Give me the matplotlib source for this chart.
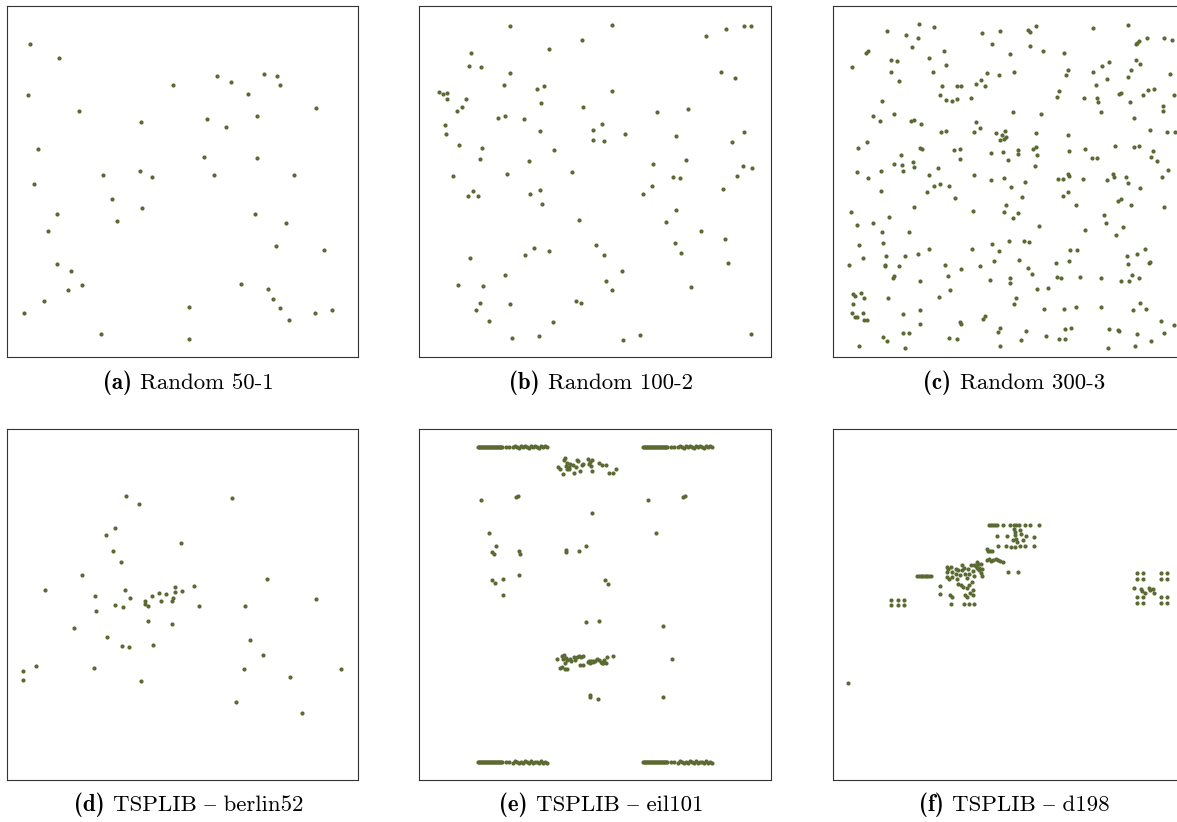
import matplotlib.pyplot as plt

# point positions (pixel units of each panel, y grows downward)
pts_a = [(90,131),(177,172),(84,285),(235,333),(520,255),(652,228),(692,246),(743,281),(793,222),(833,226),
         (842,254),(948,325),(622,357),(677,381),(770,347),(423,365),(113,446),(611,471),(771,474),(310,526),
         (420,513),(456,531),(643,526),(884,526),(101,552),(335,596),(426,625),(169,641),(352,664),(764,641),
         (860,670),(143,692),(828,737),(973,749),(170,793),(212,813),(244,856),(202,872),(722,854),(803,867),
         (131,904),(821,897),(71,939),(567,921),(841,925),(946,939),(998,931),(868,960),(303,1004),(568,1019)]

pts_b = [(295,77),(602,74),(511,120),(410,146),(883,107),(943,85),(998,78),(1018,77),
         (178,159),(172,197),(206,201),(293,218),(928,216),(970,233),
         (275,255),(376,265),(397,256),(602,273),
         (82,275),(94,280),(106,279),(105,298),(163,298),(151,321),(134,333),
         (387,309),(514,322),(736,337),(830,326),
         (259,354),(279,347),(336,358),
         (98,375),(102,401),(383,392),(542,391),(572,373),(544,419),(578,422),(640,403),(792,408),(998,397),(961,425),
         (140,435),(210,443),(425,449),(203,478),(352,483),(724,493),(822,480),(993,497),(1020,503),(977,527),
         (124,527),(285,521),(481,517),(783,530),(805,533),(722,558),(695,581),(935,567),
         (183,573),(168,587),(199,589),(353,581),(383,569),(389,611),
         (792,629),(502,659),(762,666),(867,692),(940,717),(791,729),(809,760),(949,789),
         (175,773),(340,766),(366,745),(411,752),(553,736),(576,765),
         (278,827),(632,813),(138,856),(214,858),(582,843),(600,872),(839,863),
         (203,911),(191,931),(293,914),(491,904),(508,909),
         (231,965),(424,966),
         (299,1014),(380,1009),(634,1021),(686,1006),(1019,1002)]

pts_c = [(276,70),(320,77),(180,91),(236,103),(273,112),(460,96),(513,89),(592,87),(599,94),(617,75),
         (782,81),(885,73),(489,129),(255,136),(599,134),(636,149),(700,154),(120,153),(125,149),(347,149),
         (540,157),(909,128),(913,124),(918,120),(940,112),(990,110),(1014,117),
         (79,195),(194,175),(210,177),(305,169),(354,189),(910,176),(921,188),(830,181),(809,193),(194,211),
         (317,211),(475,213),(508,220),(553,209),(709,205),(704,218),(782,211),(895,205),(887,225),(823,231),
         (1008,216),(215,235),(441,244),(457,234),(469,252),(343,250),(385,250),(397,251),(793,248),
         (683,266),(678,282),(757,286),(796,286),(797,298),(860,274),(865,270),(891,298),(930,276),(943,264),
         (962,260),(1020,278),(335,276),(354,291),(370,295),(387,290),(428,286),(168,296),(551,328),
         (631,333),(806,327),(988,309),(989,324),(902,343),
         (139,340),(161,353),(202,333),(250,353),(261,351),(282,362),(340,384),(353,383),(441,355),(452,374),
         (435,384),(499,388),(527,381),(518,394),(529,401),(511,408),(524,407),(617,388),(710,394),(951,379),
         (999,386),(1023,385),
         (97,432),(124,415),(278,433),(285,435),(376,437),(394,436),(394,464),(484,448),(521,443),(563,438),
         (563,450),(609,434),(618,428),(619,453),(536,468),(614,484),(714,442),(761,434),(781,461),(796,462),
         (848,425),(904,429),(918,427),(960,442),(952,459),(970,471),(223,454),(201,480),(224,482),(227,498),
         (258,474),(260,488),(331,490),(95,502),(164,499),
         (125,520),(303,511),(437,512),(485,525),(523,520),(584,531),(543,545),(682,524),(696,522),(710,507),
         (712,513),(755,522),(824,525),(843,509),(846,517),(880,518),(885,534),(922,549),(984,518),(1003,497),
         (320,542),(336,536),(362,544),(298,561),(165,557),(381,577),(576,576),(695,571),(709,560),
         (261,604),(433,617),(523,618),(530,600),(563,622),(551,638),(733,600),(857,588),(866,581),(894,600),
         (990,606),(75,618),(95,657),(140,652),(186,635),(166,677),(246,678),(626,659),(815,627),(822,651),
         (870,662),(852,687),(760,671),
         (99,717),(170,709),(177,749),(111,755),(70,774),(176,773),(176,776),(234,747),(272,743),(305,726),
         (216,777),(351,773),(399,787),(431,726),(453,776),(487,712),(508,732),(494,762),(537,705),(581,704),
         (595,708),(567,759),(593,783),(605,799),(717,729),(738,729),(713,762),(675,767),(883,748),(911,741),
         (935,728),(949,764),(946,768),(887,771),
         (202,805),(198,811),(278,822),(359,805),(481,818),(541,813),(541,826),(678,808),(690,812),(744,808),
         (806,811),(866,820),(890,821),(897,803),(919,813),(619,843),(651,841),(364,847),(83,858),(88,865),
         (106,857),(113,870),(185,872),(333,869),(558,872),
         (81,889),(553,888),(640,904),(698,903),(734,896),(806,896),(899,906),(921,885),(939,904),(78,913),
         (87,927),(94,925),(110,913),(113,934),(122,935),(228,918),(279,905),(462,932),(469,923),(395,940),
         (398,948),(278,947),(981,937),(1019,950),
         (171,984),(180,997),(228,973),(246,972),(100,1012),(233,1018),(362,988),(385,991),(505,971),(512,958),
         (512,1010),(588,968),(574,993),(645,983),(683,989),(702,961),(702,989),(718,957),(830,962),(857,963),
         (859,966),(913,975),(954,996),(991,972),(826,1017),(905,1011)]

pts_d = [(377,220),(417,245),(696,228),(346,318),(318,340),(542,363),(338,388),(363,421),(246,458),(801,471),
         (134,505),(285,521),(374,505),(391,527),(344,550),(369,555),(288,567),(435,537),(436,545),(444,552),
         (455,521),(478,513),(497,516),(483,536),(516,536),(519,527),(525,511),(525,496),(545,508),(581,493),
         (598,552),(735,552),(950,530),(444,597),(517,605),(221,617),(321,645),(366,672),(386,675),(458,670),
         (751,653),(790,700),(67,748),(67,773),(107,731),(282,737),(422,776),(731,740),(871,765),(1025,740),
         (707,840),(907,873)]

# eil101: one dense band, repeated in the four corners of the tiling
band_x = [197,200,203,206,209,212,215,218,221,224,227,230,233,236,239,242,245,248,251,254,257,260,263,266,269,
          281,291,303,309,314,320,326,332,338,344,350,356,362,368,374,380,386,392,398,404]
band_dy = [0,0,0,0,0,0,0,0,0,0,0,0,0,0,0,0,0,0,0,0,0,0,0,0,0,
           0,0,2,-3,0,3,-2,2,-3,0,3,-3,2,-2,0,3,-3,2,-2,1]
band_x0 = [0,496,0,496]
band_y0 = [73,73,1022,1022]

pts_e = [(459,106),(457,113),(438,133),(445,140),(453,155),(462,130),(466,122),(470,133),(475,126),(482,128),
         (492,133),(494,113),(498,116),(486,152),(503,146),(511,128),(514,124),(527,110),(530,125),(537,130),
         (541,113),(540,146),(533,118),(563,122),(570,127),(582,128),(593,152),(605,152),(612,140),(466,140),
         (472,140),
         (208,233),(313,223),(317,221),(710,233),(815,223),(819,221),(540,271),(232,334),(734,334),(253,372),
         (240,390),(246,397),(321,387),(324,397),(461,385),(462,390),(500,387),(522,373),(240,474),(250,484),
         (274,470),(321,459),(274,519),(581,474),(588,487),(521,600),(561,597),(755,611),
         (435,710),(449,703),(452,712),(458,722),(456,700),(462,707),(466,714),(473,710),(478,716),(485,704),
         (488,713),(495,706),(500,703),(507,705),(513,703),(505,728),(512,728),(527,720),(531,716),(537,718),
         (542,716),(534,724),(557,710),(563,715),(567,720),(571,724),(577,715),(583,722),(585,706),(605,701),
         (445,738),(450,736),(458,740),(466,740),(543,720),(549,716),(575,723),
         (782,710),(534,820),(535,826),(558,832),(755,826)]

pts_f = [(69,783),
         (199,535),(218,535),(238,535),(199,548),(218,548),(238,548),
         (277,462),(282,462),(287,462),(292,462),(297,462),(302,462),(307,462),(312,462),(317,462),
         (365,435),(365,450),(365,465),(370,440),(372,470),(380,450),(382,465),(378,435),(392,440),(392,455),
         (395,470),(400,445),(405,460),(410,430),(412,445),(418,438),(420,455),(425,468),(430,440),(432,455),
         (438,430),(443,448),(448,462),(455,438),(460,425),(462,445),(470,440),(472,462),(468,425),
         (400,485),(408,490),(415,495),(425,498),(432,490),(440,480),(445,505),(435,512),(420,520),
         (345,492),(345,516),(375,520),(380,525),(378,547),(418,547),(433,547),(448,547),(425,525),(443,520),
         (447,428),(452,433),(455,420),(462,437),(468,452),
         (485,415),(492,412),(499,418),(505,414),(512,411),(519,414),(526,418),(533,420),
         (486,380),(490,388),(495,388),(500,388),(518,371),(515,343),(545,343),(544,372),(560,376),
         (571,375),(586,372),(601,373),(628,371),(628,344),(603,342),(550,450),(581,450),
         (493,310),(499,310),(505,310),(511,310),(517,310),(535,310),(557,310),(568,310),(575,310),(582,310),
         (600,310),(615,310),(643,310),
         (568,320),(570,330),(572,340),(574,350),(566,355),(576,360),(585,325),(590,335),(595,355),
         (937,453),(956,453),(937,470),(956,470),(1010,453),(1028,453),(1010,470),(1028,470),
         (927,497),(948,500),(952,508),(960,513),(972,497),(975,505),(985,500),(988,514),
         (937,526),(956,526),(937,544),(956,544),(1010,526),(1028,526),(1010,544),(1028,544)]

labels = ["(a)", "(b)", "(c)", "(d)", "(e)", "(f)"]
# '{' is the en dash slot in the Computer Modern roman font
names = ["Random 50-1", "Random 100-2", "Random 300-3",
         "TSPLIB { berlin52", "TSPLIB { eil101", "TSPLIB { d198"]

# panel frame in reading units: (x_left, x_right, y_top, y_bottom)
frames = [(20,1075,17,1072),(22,1077,17,1072),(22,1048,17,1043),
          (20,1075,20,1075),(22,1077,20,1075),(22,1077,20,1075)]

DOT = '#5b6a32'
FS = 16.5
W, H = 1177, 822

fig = plt.figure(figsize=(W/100, H/100), dpi=100)
rend = fig.canvas.get_renderer()

lefts = [7, 419.5, 832.5]
tops = [6, 429]
size = 351
cap_base = [389, 811]
cap_shift = 6

e_pts = list(pts_e)
for x0, y0 in zip(band_x0, band_y0):
    for bx, dy in zip(band_x, band_dy):
        e_pts.append((bx + x0, y0 + dy))

all_pts = [pts_a, pts_b, pts_c, pts_d, e_pts, pts_f]

for i, pts in enumerate(all_pts):
    r, c = divmod(i, 3)
    ax = fig.add_axes([lefts[c]/W, 1 - (tops[r] + size)/H, size/W, size/H])
    xs = [p[0] for p in pts]
    ys = [p[1] for p in pts]
    ax.scatter(xs, ys, s=9, color=DOT, linewidths=0)
    x0, x1, y0, y1 = frames[i]
    ax.set_xlim(x0, x1)
    ax.set_ylim(y1, y0)
    ax.set_xticks([])
    ax.set_yticks([])
    for sp in ax.spines.values():
        sp.set_linewidth(0.8)
        sp.set_color('#333333')

    # caption: bold label + roman name, centred under the panel (subfigure centre)
    cx = lefts[c] + size/2 + cap_shift
    yb = 1 - cap_base[r]/H
    t1 = fig.text(0, yb, labels[i], family='cmb10', fontsize=FS, va='baseline')
    t2 = fig.text(0, yb, names[i], family='cmr10', fontsize=FS, va='baseline')
    w1 = t1.get_window_extent(rend).width
    w2 = t2.get_window_extent(rend).width
    gap = 0.36 * FS * 100/72
    x_start = cx - (w1 + gap + w2)/2
    t1.set_x(x_start/W)
    t2.set_x((x_start + w1 + gap)/W)

fig.savefig('out.png', dpi=100)
